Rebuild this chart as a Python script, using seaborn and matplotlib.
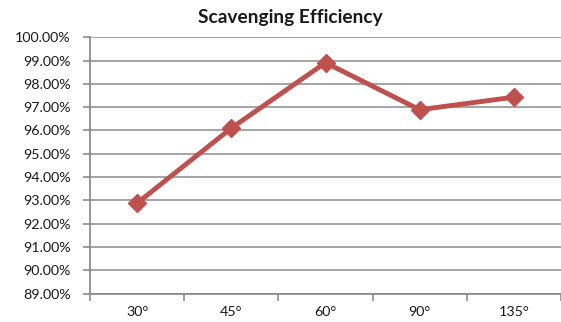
import matplotlib
matplotlib.use("Agg")
import matplotlib.pyplot as plt
import seaborn as sns
import pandas as pd
from matplotlib.ticker import FixedLocator, PercentFormatter

categories = ["30°", "45°", "60°", "90°", "135°"]
efficiency = [92.88, 96.10, 98.91, 96.89, 97.43]
y_ticks = [89, 90, 91, 92, 93, 94, 95, 96, 97, 98, 99, 100]

sns.set_theme(style="white")
plt.rcParams["font.family"] = ["Lato", "DejaVu Sans"]

df = pd.DataFrame({"angle": categories, "eff": efficiency})

fig = plt.figure(figsize=(5.61, 3.22), dpi=100)
ax = fig.add_axes([90 / 561, 28.5 / 322, 471 / 561, 256.2 / 322])

sns.lineplot(data=df, x="angle", y="eff", ax=ax, color="#C0504D", linewidth=3.5,
             marker="D", markersize=9.5, markeredgecolor="#C0504D", markeredgewidth=1,
             zorder=3, sort=False)

ax.set_ylim(89, 100)
ax.set_xlim(-0.5, len(categories) - 0.5)
ax.yaxis.set_major_locator(FixedLocator(y_ticks))
ax.yaxis.set_major_formatter(PercentFormatter(decimals=2))
ax.grid(axis="y", color="#8c8c8c", linewidth=1.1)
ax.set_axisbelow(True)

for s in ["top", "right"]:
    ax.spines[s].set_visible(False)
for s in ["left", "bottom"]:
    ax.spines[s].set_color("#8c8c8c")
    ax.spines[s].set_linewidth(1.3)

ax.set_xlabel("")
ax.set_ylabel("")
ax.tick_params(axis="x", which="major", length=0, pad=9, labelsize=10.3, labelcolor="#1a1a1a")
ax.xaxis.set_minor_locator(FixedLocator([i - 0.5 for i in range(len(categories) + 1)]))
ax.tick_params(axis="x", which="minor", length=5, width=1.2, color="#8c8c8c", direction="out", bottom=True)
ax.tick_params(axis="y", which="major", length=5, width=1.2, color="#8c8c8c", direction="out",
               left=True, pad=9, labelsize=10.3, labelcolor="#1a1a1a")

fig.text(290 / 561, 1 - 18 / 322, "Scavenging Efficiency", ha="center", va="center",
         fontsize=13.8, fontweight="bold", color="#1a1a1a")

fig.savefig("out.png", dpi=100)
